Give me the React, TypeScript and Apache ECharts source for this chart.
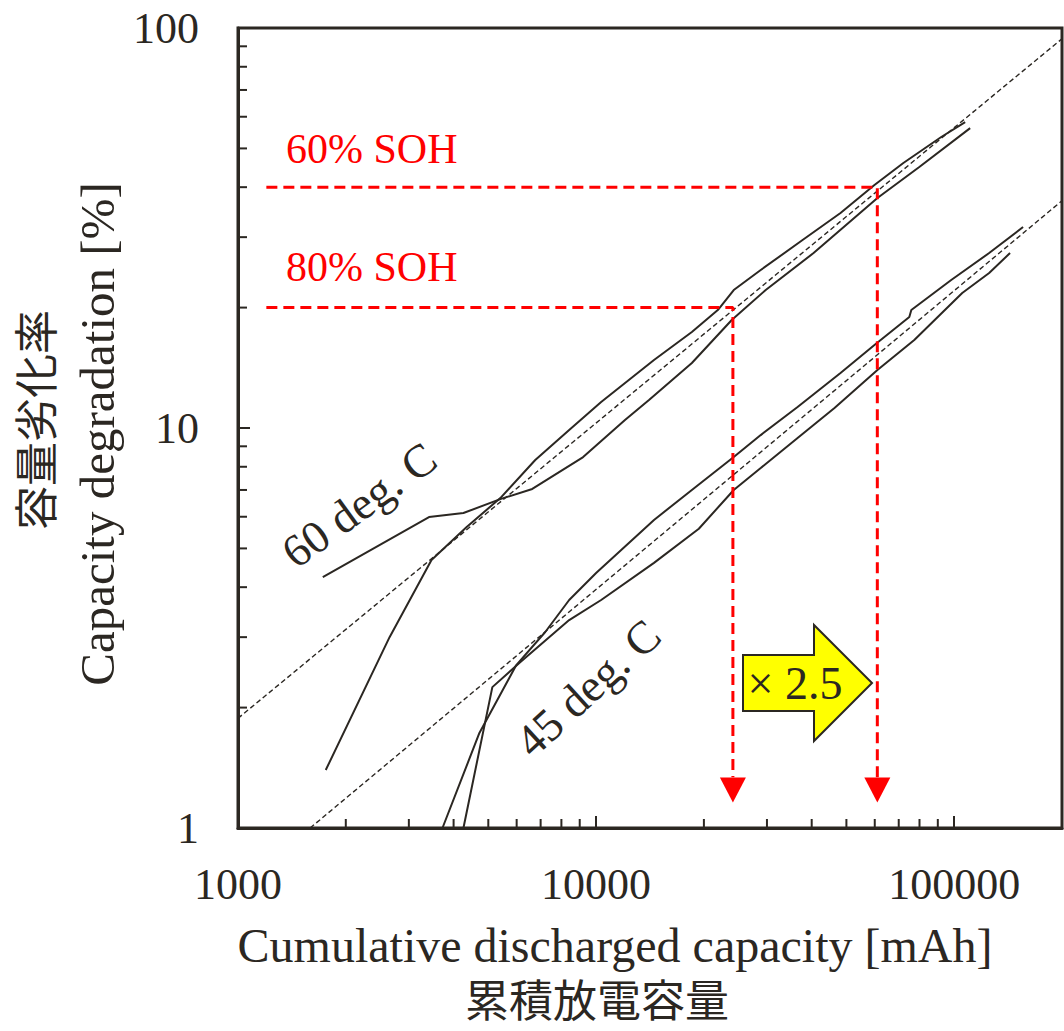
import React, { useEffect, useRef } from 'react';
import * as echarts from 'echarts';

// ---- data ----
const xTickValues = [1000, 10000, 100000];
const yTickValues = [1, 10, 100];
const xMinorTicks = [2000, 3000, 4000, 5000, 6000, 7000, 8000, 9000, 20000, 30000, 40000, 50000, 60000, 70000, 80000, 90000];
const yMinorTicks = [2, 3, 4, 5, 6, 7, 8, 9, 20, 30, 40, 50, 60, 70, 80, 90];

// 60 deg. C cells
const curve60A: [number, number][] = [
  [1725, 4.24], [3415, 5.99], [4261, 6.13], [5402, 6.64], [6634, 7.04], [9201, 8.46], [12040, 10.47],
  [14050, 11.75], [18510, 14.54], [23920, 18.62], [29760, 22.13], [40480, 27.38], [61040, 37.58],
  [79900, 44.93], [110800, 56.2],
];
const curve60B: [number, number][] = [
  [1758, 1.396], [2650, 3.0], [3470, 4.68], [4343, 5.65], [5402, 6.68], [6762, 8.32], [8410, 9.89],
  [10330, 11.61], [14510, 14.79], [18510, 17.38], [21870, 19.72], [24230, 22.13], [28820, 24.83],
  [37720, 29.51], [48140, 34.47], [59880, 40.5], [72110, 45.97], [92000, 53.4], [107300, 58.2],
];
// 45 deg. C cells
const curve45A: [number, number][] = [
  [3724, 1.0], [4722, 1.728], [5986, 2.555], [7211, 3.09], [8410, 3.715], [10000, 4.34], [14510, 5.89],
  [18510, 7.0], [24230, 8.46], [28820, 9.6], [36530, 11.28], [48140, 13.72], [59880, 16.13],
  [74930, 18.95], [75900, 19.72], [98100, 23.44], [125200, 27.38], [155700, 31.8],
];
const curve45B: [number, number][] = [
  [4261, 1.0], [5132, 2.25], [6103, 2.585], [8410, 3.31], [10330, 3.715], [14510, 4.6], [19360, 5.6],
  [24230, 7.0], [28820, 7.94], [36530, 9.44], [46310, 11.22], [61040, 13.96], [77360, 16.6],
  [105300, 21.75], [125200, 24.4], [143200, 27.38],
];
// power-law fits (dashed)
const fit60: [number, number][] = [[1000, 1.88], [200000, 94]];
const fit45: [number, number][] = [[1590, 1.0], [200000, 37]];

// SOH thresholds
const soh80Deg = 20; // % degradation
const soh60Deg = 40;
const soh80Cap = 24100; // mAh
const soh60Cap = 61000;
const sohLineStart = 1200;
const arrowTipLevel = 1.34;
const arrowHeadLevel = 1.245;

const DARK = '#2b2722';
const RED = '#ff0000';
const SERIF = '"Liberation Serif", "Times New Roman", serif';
const CJK = '"Noto Sans CJK JP", "Noto Sans CJK SC", sans-serif';

function matchTick(v: number, list: number[]): string {
  for (const t of list) {
    if (Math.abs(v - t) / t < 1e-6) return String(t);
  }
  return '';
}

function App() {
  const ref = useRef<HTMLDivElement>(null);
  useEffect(() => {
    if (!ref.current) return;
    const chart = echarts.init(ref.current, null, { renderer: 'svg' });
    const solid = (data: [number, number][]) => ({
      type: 'line',
      data,
      showSymbol: false,
      symbol: 'none',
      lineStyle: { color: DARK, width: 2 },
      silent: true,
      z: 3,
    });
    const dashed = (data: [number, number][]) => ({
      type: 'line',
      data,
      showSymbol: false,
      symbol: 'none',
      lineStyle: { color: DARK, width: 1.4, type: [5, 3] },
      silent: true,
      z: 2,
    });
    const option: any = {
      animation: false,
      backgroundColor: '#ffffff',
      grid: {
        left: 238,
        right: 2,
        top: 28,
        bottom: 203,
        show: true,
        borderColor: DARK,
        borderWidth: 3,
        backgroundColor: 'transparent',
      },
      xAxis: {
        type: 'log',
        logBase: 10,
        min: 1000,
        max: 200000,
        axisLine: { show: true, lineStyle: { color: DARK, width: 3 } },
        axisTick: { show: true, inside: true, length: 12, lineStyle: { color: DARK, width: 2 } },
        splitLine: { show: false },
        minorTick: { show: false },
        axisLabel: {
          margin: 34,
          fontSize: 44,
          fontFamily: SERIF,
          color: DARK,
          formatter: (v: number) => matchTick(v, xTickValues),
          showMaxLabel: false,
        },
      },
      yAxis: {
        type: 'log',
        logBase: 10,
        min: 1,
        max: 100,
        axisLine: { show: true, lineStyle: { color: DARK, width: 3 } },
        axisTick: { show: true, inside: true, length: 12, lineStyle: { color: DARK, width: 2 } },
        splitLine: { show: false },
        axisLabel: {
          margin: 39,
          fontSize: 44,
          fontFamily: SERIF,
          color: DARK,
          formatter: (v: number) => matchTick(v, yTickValues),
        },
      },
      series: [
        {
          type: 'custom',
          coordinateSystem: 'cartesian2d',
          data: xMinorTicks.map((v) => [v, 1]),
          encode: { x: 0, y: 1 },
          clip: false,
          silent: true,
          z: 5,
          renderItem: (params: any, api: any) => {
            const p = api.coord([api.value(0), api.value(1)]);
            return {
              type: 'line',
              shape: { x1: p[0], y1: p[1], x2: p[0], y2: p[1] - 9 },
              style: { stroke: DARK, lineWidth: 2 },
            };
          },
        },
        {
          type: 'custom',
          coordinateSystem: 'cartesian2d',
          data: yMinorTicks.map((v) => [1000, v]),
          encode: { x: 0, y: 1 },
          clip: false,
          silent: true,
          z: 5,
          renderItem: (params: any, api: any) => {
            const p = api.coord([api.value(0), api.value(1)]);
            return {
              type: 'line',
              shape: { x1: p[0], y1: p[1], x2: p[0] + 9, y2: p[1] },
              style: { stroke: DARK, lineWidth: 2 },
            };
          },
        },
        dashed(fit60),
        dashed(fit45),
        solid(curve60A),
        solid(curve60B),
        solid(curve45A),
        solid(curve45B),
        {
          type: 'line',
          data: [[sohLineStart, soh80Deg], [soh80Cap, soh80Deg], [soh80Cap, arrowTipLevel]],
          showSymbol: false,
          symbol: 'none',
          lineStyle: { color: RED, width: 3, type: [11, 6] },
          silent: true,
          z: 4,
        },
        {
          type: 'line',
          data: [[sohLineStart, soh60Deg], [soh60Cap, soh60Deg], [soh60Cap, arrowTipLevel]],
          showSymbol: false,
          symbol: 'none',
          lineStyle: { color: RED, width: 3, type: [11, 6] },
          silent: true,
          z: 4,
        },
        {
          type: 'scatter',
          data: [[soh80Cap, arrowHeadLevel], [soh60Cap, arrowHeadLevel]],
          symbol: 'triangle',
          symbolSize: [26, 25],
          symbolRotate: 180,
          itemStyle: { color: RED, opacity: 1 },
          silent: true,
          z: 6,
        },
      ],
      graphic: [
        {
          type: 'text', x: 286, y: 149, silent: true, z: 10,
          style: { text: '60% SOH', fill: RED, fontSize: 42, fontFamily: SERIF, align: 'left', verticalAlign: 'middle', textAlign: 'left', textVerticalAlign: 'middle' },
        },
        {
          type: 'text', x: 286, y: 267, silent: true, z: 10,
          style: { text: '80% SOH', fill: RED, fontSize: 42, fontFamily: SERIF, align: 'left', verticalAlign: 'middle', textAlign: 'left', textVerticalAlign: 'middle' },
        },
        {
          type: 'text', x: 359, y: 505, rotation: (36 * Math.PI) / 180, silent: true, z: 10,
          style: { text: '60 deg. C', fill: DARK, fontSize: 46, fontFamily: SERIF, align: 'center', verticalAlign: 'middle', textAlign: 'center', textVerticalAlign: 'middle' },
        },
        {
          type: 'text', x: 588, y: 688, rotation: (42.5 * Math.PI) / 180, silent: true, z: 10,
          style: { text: '45 deg. C', fill: DARK, fontSize: 46, fontFamily: SERIF, align: 'center', verticalAlign: 'middle', textAlign: 'center', textVerticalAlign: 'middle' },
        },
        {
          type: 'polygon', silent: true, z: 10,
          shape: { points: [[743, 655], [814, 655], [814, 625], [872, 683], [814, 741], [814, 711], [743, 711]] },
          style: { fill: '#ffff00', stroke: DARK, lineWidth: 2 },
        },
        {
          type: 'text', x: 795, y: 683, silent: true, z: 11,
          style: { text: '× 2.5', fill: DARK, fontSize: 46, fontFamily: SERIF, align: 'center', verticalAlign: 'middle', textAlign: 'center', textVerticalAlign: 'middle' },
        },
        {
          type: 'text', x: 97, y: 434, rotation: Math.PI / 2, silent: true, z: 10,
          style: { text: 'Capacity degradation [%]', fill: DARK, fontSize: 49, fontFamily: SERIF, align: 'center', verticalAlign: 'middle', textAlign: 'center', textVerticalAlign: 'middle' },
        },
        {
          type: 'text', x: 34, y: 420, rotation: Math.PI / 2, silent: true, z: 10,
          style: { text: '容量劣化率', fill: DARK, fontSize: 44, fontFamily: CJK, align: 'center', verticalAlign: 'middle', textAlign: 'center', textVerticalAlign: 'middle' },
        },
        {
          type: 'text', x: 615, y: 945, silent: true, z: 10,
          style: { text: 'Cumulative discharged capacity [mAh]', fill: DARK, fontSize: 48, fontFamily: SERIF, align: 'center', verticalAlign: 'middle', textAlign: 'center', textVerticalAlign: 'middle' },
        },
        {
          type: 'text', x: 597, y: 998, silent: true, z: 10,
          style: { text: '累積放電容量', fill: DARK, fontSize: 44, lineHeight: 44, fontFamily: CJK, align: 'center', verticalAlign: 'middle', textAlign: 'center', textVerticalAlign: 'middle' },
        },
      ],
    };
    chart.setOption(option);
    return () => {
      chart.dispose();
    };
  }, []);
  return (
    <div
      ref={ref}
      style={{ position: 'absolute', left: 0, top: 0, width: 1064, height: 1031, background: '#fff' }}
    />
  );
}

export default App;
